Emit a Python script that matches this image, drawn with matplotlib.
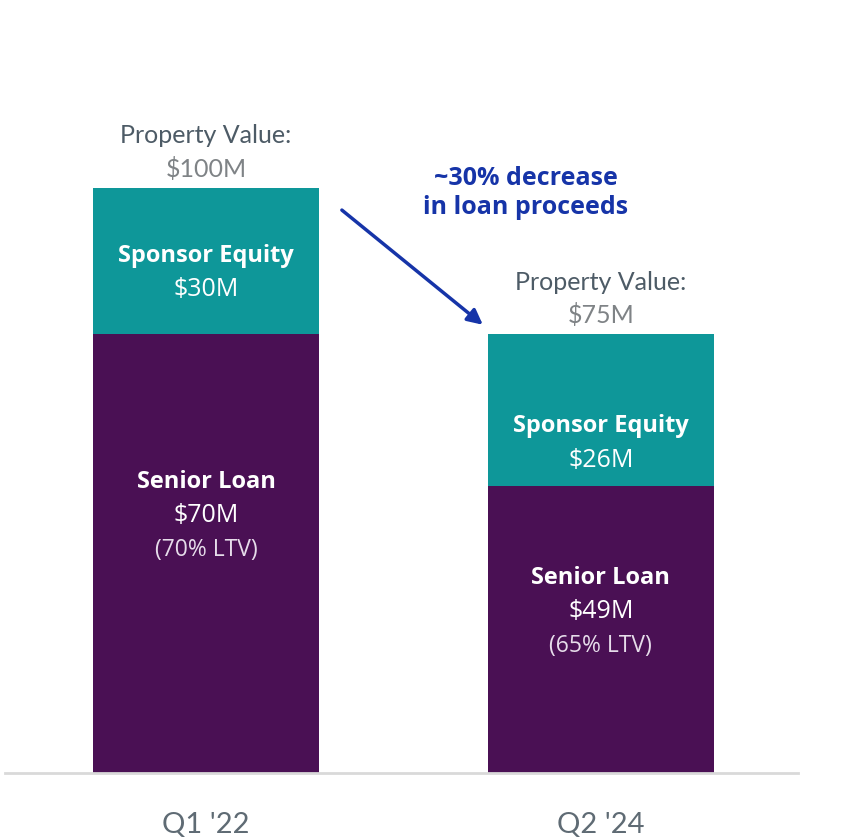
import matplotlib
matplotlib.use("Agg")
import matplotlib.pyplot as plt

# data (drawn heights, $M)
periods = ["Q1 '22", "Q2 '24"]
senior_loan = [75, 49]
sponsor_equity = [25, 26]
property_value = ["$100M", "$75M"]
senior_text = ["$70M", "$49M"]
ltv_text = ["(70% LTV)", "(65% LTV)"]
equity_text = ["$30M", "$26M"]

PURPLE = "#4a1054"
TEAL = "#0e9799"
BLUE = "#1634a8"
GRAY = "#4d5b66"
LIGHT = "#7f8386"

fig = plt.figure(figsize=(8.65, 8.38), dpi=100)
ax = fig.add_axes([5 / 865, 65 / 838, 793 / 865, 773 / 838])

x = [0, 1]
width = 0.572
ax.bar(x, senior_loan, width, color=PURPLE, zorder=2)
ax.bar(x, sponsor_equity, width, bottom=senior_loan, color=TEAL, zorder=2)

ax.set_xlim(-0.509, 1.499)
ax.set_ylim(0, 132.1)
for s in ["top", "right", "left"]:
    ax.spines[s].set_visible(False)
ax.spines["bottom"].set_color("#d9d9d9")
ax.spines["bottom"].set_linewidth(2)
ax.set_yticks([])
ax.set_xticks(x)
ax.set_xticklabels(periods, fontsize=21, color="#5f6b74", family="Lato")
ax.tick_params(axis="x", length=0, pad=28)

# pixel offsets of the first text line from the segment centre
equity_off = [-5, 16]
senior_off = [-72, -52]
lh = 34

for i in range(2):
    tot = senior_loan[i] + sponsor_equity[i]
    ax.annotate("Property Value:", (x[i], tot), xytext=(0, 52), textcoords="offset pixels",
                ha="center", va="center", fontsize=18, color=GRAY, family="Lato")
    ax.annotate(property_value[i], (x[i], tot), xytext=(0, 19), textcoords="offset pixels",
                ha="center", va="center", fontsize=18, color=LIGHT, family="Lato")

    ec = senior_loan[i] + sponsor_equity[i] / 2
    ax.annotate("Sponsor Equity", (x[i], ec), xytext=(0, -equity_off[i]), textcoords="offset pixels",
                ha="center", va="center", fontsize=17, color="white", family="Open Sans", fontweight="bold")
    ax.annotate(equity_text[i], (x[i], ec), xytext=(0, -equity_off[i] - lh), textcoords="offset pixels",
                ha="center", va="center", fontsize=18, color="white", family="Open Sans")

    sc = senior_loan[i] / 2
    ax.annotate("Senior Loan", (x[i], sc), xytext=(0, -senior_off[i]), textcoords="offset pixels",
                ha="center", va="center", fontsize=17, color="white", family="Open Sans", fontweight="bold")
    ax.annotate(senior_text[i], (x[i], sc), xytext=(0, -senior_off[i] - lh), textcoords="offset pixels",
                ha="center", va="center", fontsize=18, color="white", family="Open Sans")
    ax.annotate(ltv_text[i], (x[i], sc), xytext=(0, -senior_off[i] - 2 * lh), textcoords="offset pixels",
                ha="center", va="center", fontsize=16.5, color="#e6dcea", family="Open Sans")

# callout arrow
ax.annotate("", xy=(0.701, 76.6), xytext=(0.344, 96.2),
            arrowprops=dict(arrowstyle="-|>,head_length=0.9,head_width=0.45", color=BLUE, lw=2.5,
                            shrinkA=0, shrinkB=0))
ax.text(0.81, 99.1, "~30% decrease\nin loan proceeds", ha="center", va="center",
        fontsize=18, color=BLUE, family="Open Sans", fontweight="bold", linespacing=1.2)

fig.savefig("out.png", dpi=100)
